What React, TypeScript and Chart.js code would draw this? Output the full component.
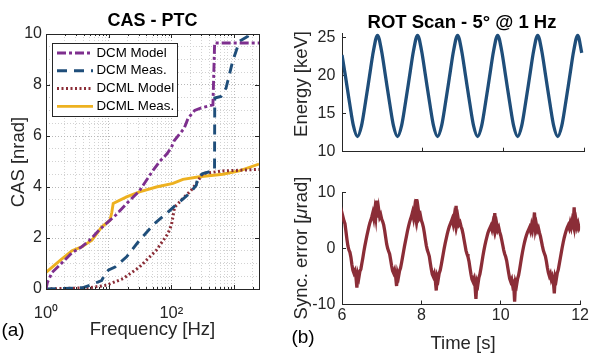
import React, { useEffect, useRef } from "react";
import { Chart, registerables } from "chart.js";

Chart.register(...registerables);

const FONT = "'Liberation Sans', Arial, Helvetica, sans-serif";
const INK = "#262626";

// ---------- Panel (a): CAS - PTC ----------
const freqTicks = [1, 2, 3, 4, 5, 6, 7, 8, 9, 10, 20, 30, 40, 50, 60, 70, 80, 90, 100, 200, 300, 400, 500, 600, 700, 800, 900, 1000, 2000];
const freqMajor = [1, 10, 100, 1000];
const freqLabels: Record<number, string> = { 1: "10⁰", 100: "10²" };
const casTicks = [0, 0.5, 1, 1.5, 2, 2.5, 3, 3.5, 4, 4.5, 5, 5.5, 6, 6.5, 7, 7.5, 8, 8.5, 9, 9.5, 10];
const casLabelled = [0, 2, 4, 6, 8, 10];
const legendNames = ["DCM Model", "DCM Meas.", "DCML Model", "DCML Meas."];

const dcmModelHz = [1, 1.05, 1.25, 1.6, 2.6, 3.7, 5.0, 7.3, 9.8, 13, 19.3, 31, 51, 65, 85, 100, 110, 160, 185, 235, 300, 460, 490, 2500];
const dcmModelCas = [0, 0.25, 0.65, 0.9, 1.42, 1.65, 1.92, 2.35, 2.63, 2.9, 3.35, 3.85, 4.65, 5.0, 5.3, 5.55, 5.8, 6.3, 6.7, 7.0, 7.1, 7.22, 9.65, 9.65];

const dcmMeasHz = [1, 2.7, 4.0, 5.0, 7.7, 8.8, 10, 12.6, 19.3, 31, 54, 83, 135, 195, 250, 265, 318, 458, 488, 492, 620, 745, 950, 1215, 1640, 1800];
const dcmMeasCas = [0, 0.03, 0.06, 0.15, 0.33, 0.6, 0.75, 0.86, 1.26, 1.91, 2.57, 2.96, 3.42, 3.75, 4.07, 4.4, 4.53, 4.63, 4.65, 7.49, 7.55, 7.88, 8.93, 9.71, 9.9, 10.2];

const dcmlModelHz = [1, 5.0, 9.3, 17, 31, 57.6, 88, 100, 106, 112, 153, 208, 250, 318, 660, 2500];
const dcmlModelCas = [0, 0.05, 0.15, 0.41, 0.86, 1.52, 2.17, 2.5, 2.83, 3.2, 3.55, 3.88, 4.14, 4.53, 4.63, 4.69];

const dcmlMeasHz = [1, 1.7, 2.6, 3.7, 5.4, 7.7, 10.5, 11.2, 11.8, 19.3, 31, 57.6, 106, 153, 280, 660, 1215, 2500];
const dcmlMeasCas = [0.65, 1.13, 1.5, 1.65, 1.91, 2.43, 2.7, 3.0, 3.35, 3.61, 3.81, 4.0, 4.14, 4.3, 4.4, 4.5, 4.63, 4.9];

// ---------- Panel (b): ROT Scan ----------
const timeTicks = [6, 8, 10, 12];
const energyTicks = [10, 15, 20, 25];
const syncTicks = [-10, 0, 10];

const energyT = [
  6.0, 6.086, 6.185, 6.284, 6.384, 6.483, 6.582, 6.681, 6.781, 6.88,
  6.979, 7.079, 7.178, 7.277, 7.377, 7.476, 7.575, 7.674, 7.774, 7.873,
  7.972, 8.072, 8.171, 8.27, 8.37, 8.469, 8.568, 8.667, 8.767, 8.866,
  8.965, 9.065, 9.164, 9.263, 9.363, 9.462, 9.561, 9.66, 9.76, 9.859,
  9.958, 10.058, 10.157, 10.256, 10.356, 10.455, 10.554, 10.653, 10.753, 10.852,
  10.951, 11.051, 11.15, 11.249, 11.349, 11.448, 11.547, 11.646, 11.746, 11.845,
  11.944,
];
const energyKeV = [
  22.7, 19.9, 16.5, 13.4, 12.0, 13.4, 16.5, 19.9, 23.3, 25.3,
  23.3, 19.9, 16.5, 13.4, 12.0, 13.4, 16.5, 19.9, 23.3, 25.3,
  23.3, 19.9, 16.5, 13.4, 12.0, 13.4, 16.5, 19.9, 23.3, 25.3,
  23.3, 19.9, 16.5, 13.4, 12.0, 13.4, 16.5, 19.9, 23.3, 25.3,
  23.3, 19.9, 16.5, 13.4, 12.0, 13.4, 16.5, 19.9, 23.3, 25.3,
  23.3, 19.9, 16.5, 13.4, 12.0, 13.4, 16.5, 19.9, 23.3, 25.3,
  23.0,
];

const syncStart = 6;
const syncStep = 0.025;
const syncErr = [
  5.3, 5.6, 4.9, 4.4, 3.0, 1.6, 0.4, -0.3, -0.7, -1.6,
  -2.9, -3.9, -4.4, -4.0, -5.0, -7.0, -4.6, -5.2, -4.1, -3.7,
  -2.7, -1.7, -0.6, 0.4, 1.3, 2.2, 3.0, 3.8, 4.5, 5.0,
  5.6, 6.3, 5.4, 6.8, 5.6, 8.5, 5.5, 6.9, 5.6, 6.0,
  5.2, 4.8, 4.2, 3.2, 2.0, 0.8, 0.0, -0.5, -1.0, -2.0,
  -3.1, -4.0, -4.4, -3.9, -4.9, -6.7, -4.4, -5.0, -4.0, -3.5,
  -2.6, -1.6, -0.6, 0.4, 1.3, 2.2, 3.1, 3.9, 4.6, 5.2,
  5.7, 6.4, 5.5, 6.9, 5.8, 8.8, 5.6, 6.8, 5.5, 5.9,
  5.0, 4.5, 3.8, 2.8, 1.6, 0.5, -0.3, -0.8, -1.4, -2.6,
  -3.7, -4.6, -5.0, -4.5, -5.6, -7.5, -5.0, -5.5, -4.4, -3.9,
  -3.0, -2.0, -1.0, 0.0, 0.9, 1.7, 2.5, 3.2, 3.8, 4.3,
  4.7, 5.2, 4.4, 5.6, 4.6, 7.6, 4.5, 5.4, 4.3, 4.6,
  3.9, 3.4, 2.6, 1.6, 0.6, -0.4, -1.0, -1.5, -2.3, -3.5,
  -4.6, -5.5, -5.9, -5.4, -6.5, -9.0, -5.9, -6.4, -5.2, -4.6,
  -3.6, -2.5, -1.4, -0.4, 0.5, 1.3, 2.0, 2.7, 3.2, 3.6,
  4.0, 3.4, 4.4, 3.6, 6.3, 3.5, 4.3, 3.3, 3.7, 2.9,
  2.3, 1.5, 0.6, -0.3, -1.0, -1.5, -2.2, -3.3, -4.4, -5.4,
  -5.9, -5.5, -6.6, -6.2, -9.5, -6.0, -6.5, -5.4, -4.8, -3.8,
  -2.7, -1.6, -0.6, 0.3, 1.1, 1.8, 2.4, 2.9, 3.3, 3.7,
  3.1, 4.1, 3.3, 4.4, 6.4, 3.4, 4.2, 3.2, 3.6, 2.8,
  2.2, 1.3, 0.4, -0.4, -0.9, -1.4, -2.3, -3.4, -4.3, -4.9,
  -4.5, -5.5, -5.0, -5.8, -8.0, -5.0, -5.5, -4.4, -3.8, -2.8,
  -1.8, -0.8, 0.2, 1.1, 1.9, 2.6, 3.2, 3.7, 4.1, 3.6,
  4.5, 3.8, 4.9, 4.2, 7.3, 4.0, 4.9, 3.8, 4.4, 3.6,
  4.0,
];

// ---------- helpers ----------
const pairs = (xs: number[], ys: number[]) => xs.map((x, i) => ({ x, y: ys[i] }));

type Run = { t: string; italic?: boolean };
type TextSpec = { runs: Run[]; x: number; y: number; size: number; bold?: boolean; rotate?: boolean; color?: string };

function textPlugin(id: string, specs: TextSpec[]) {
  return {
    id,
    afterDraw(chart: any) {
      const ctx = chart.ctx as CanvasRenderingContext2D;
      for (const s of specs) {
        ctx.save();
        ctx.translate(s.x, s.y);
        if (s.rotate) ctx.rotate(-Math.PI / 2);
        ctx.fillStyle = s.color || INK;
        ctx.textBaseline = "middle";
        ctx.textAlign = "left";
        const fontOf = (r: Run) => `${r.italic ? "italic " : ""}${s.bold ? "bold " : ""}${s.size}px ${FONT}`;
        let total = 0;
        for (const r of s.runs) {
          ctx.font = fontOf(r);
          total += ctx.measureText(r.t).width;
        }
        let cx = -total / 2;
        for (const r of s.runs) {
          ctx.font = fontOf(r);
          ctx.fillText(r.t, cx, 0);
          cx += ctx.measureText(r.t).width;
        }
        ctx.restore();
      }
    },
  };
}

const casFrame = {
  id: "casFrame",
  afterDatasetsDraw(chart: any) {
    const { ctx, chartArea: a, scales } = chart;
    const x = scales.x;
    const y = scales.y;
    ctx.save();
    ctx.strokeStyle = INK;
    ctx.lineWidth = 1;
    ctx.setLineDash([]);
    ctx.beginPath();
    for (const v of casLabelled) {
      const py = Math.round(y.getPixelForValue(v)) + 0.5;
      ctx.moveTo(a.left, py);
      ctx.lineTo(a.left + 4, py);
      ctx.moveTo(a.right, py);
      ctx.lineTo(a.right - 4, py);
    }
    for (const v of freqTicks) {
      const len = freqMajor.includes(v) ? 4 : 2;
      const px = Math.round(x.getPixelForValue(v)) + 0.5;
      ctx.moveTo(px, a.bottom);
      ctx.lineTo(px, a.bottom - len);
      ctx.moveTo(px, a.top);
      ctx.lineTo(px, a.top + len);
    }
    ctx.stroke();
    ctx.strokeRect(Math.round(a.left) + 0.5, Math.round(a.top) + 0.5, Math.round(a.right - a.left), Math.round(a.bottom - a.top));
    ctx.restore();
  },
};

const casLegend = {
  id: "casLegend",
  afterDraw(chart: any) {
    const ctx = chart.ctx as CanvasRenderingContext2D;
    ctx.save();
    ctx.fillStyle = "#ffffff";
    ctx.fillRect(52, 43, 125, 73);
    ctx.strokeStyle = INK;
    ctx.lineWidth = 1;
    ctx.setLineDash([]);
    ctx.strokeRect(52.5, 43.5, 125, 73);
    chart.data.datasets.forEach((ds: any, i: number) => {
      const y = 53 + i * 17.8;
      ctx.beginPath();
      ctx.strokeStyle = ds.borderColor;
      ctx.lineWidth = ds.borderWidth;
      ctx.setLineDash(ds.borderDash || []);
      ctx.moveTo(57, y);
      ctx.lineTo(93, y);
      ctx.stroke();
      ctx.setLineDash([]);
      ctx.fillStyle = "#000000";
      ctx.font = `13.3px ${FONT}`;
      ctx.textBaseline = "middle";
      ctx.textAlign = "left";
      ctx.fillText(ds.label, 96.5, y);
    });
    ctx.restore();
  },
};

const tickFont = { family: FONT, size: 16 };

function casConfig(): any {
  const line = (label: string, xs: number[], ys: number[], color: string, dash: number[], width: number) => ({
    label,
    data: pairs(xs, ys),
    borderColor: color,
    backgroundColor: color,
    borderWidth: width,
    borderDash: dash,
    pointRadius: 0,
    tension: 0,
    fill: false,
  });
  return {
    type: "line",
    data: {
      datasets: [
        line(legendNames[0], dcmModelHz, dcmModelCas, "#7E2F8E", [9, 3, 3, 3], 2.9),
        line(legendNames[1], dcmMeasHz, dcmMeasCas, "#1F4E7A", [10, 7], 2.9),
        line(legendNames[2], dcmlModelHz, dcmlModelCas, "#8B2D37", [2, 2.5], 3),
        line(legendNames[3], dcmlMeasHz, dcmlMeasCas, "#EDB120", [], 2.9),
      ],
    },
    options: {
      responsive: false,
      animation: false,
      devicePixelRatio: 1,
      events: [],
      layout: { padding: { left: 0, right: 11, top: 34, bottom: 0 } },
      plugins: { legend: { display: false }, tooltip: { enabled: false }, title: { display: false } },
      scales: {
        x: {
          type: "logarithmic",
          min: 1,
          max: 2500,
          afterBuildTicks: (s: any) => {
            s.ticks = freqTicks.map((v) => ({ value: v }));
          },
          afterFit: (s: any) => {
            s.height = 65;
          },
          ticks: {
            autoSkip: false,
            maxRotation: 0,
            padding: 15,
            font: { family: FONT, size: 16.5 },
            color: INK,
            callback: (v: any) => freqLabels[Number(v)] ?? "",
          },
          grid: {
            drawTicks: false,
            lineWidth: 1,
            color: (c: any) => (c.tick && freqMajor.includes(c.tick.value) ? "#b8b8b8" : "#d2d2d2"),
          },
          border: { display: false, dash: [1, 2] },
        },
        y: {
          type: "linear",
          min: 0,
          max: 10,
          afterBuildTicks: (s: any) => {
            s.ticks = casTicks.map((v) => ({ value: v }));
          },
          afterFit: (s: any) => {
            s.width = 46;
          },
          ticks: {
            autoSkip: false,
            padding: 4,
            font: tickFont,
            color: INK,
            callback: (v: any) => (casLabelled.includes(Number(v)) ? String(v) : ""),
          },
          grid: {
            drawTicks: false,
            lineWidth: 1,
            color: (c: any) => (c.tick && casLabelled.includes(c.tick.value) ? "#b8b8b8" : "#d2d2d2"),
          },
          border: { display: false, dash: [1, 2] },
        },
      },
    },
    plugins: [
      casFrame,
      casLegend,
      textPlugin("casTexts", [
        { runs: [{ t: "CAS - PTC" }], x: 152.5, y: 21, size: 18, bold: true, color: "#000000" },
        { runs: [{ t: "CAS [nrad]" }], x: 19, y: 162, size: 18.5, rotate: true },
        { runs: [{ t: "Frequency [Hz]" }], x: 152.5, y: 330, size: 18.5 },
        { runs: [{ t: "(a)" }], x: 13, y: 331, size: 19, color: "#000000" },
      ]),
    ],
  };
}

function timeScale(showLabels: boolean, height: number): any {
  return {
    type: "linear",
    min: 6,
    max: 12,
    afterBuildTicks: (s: any) => {
      s.ticks = timeTicks.map((v) => ({ value: v }));
    },
    afterFit: (s: any) => {
      s.height = height;
    },
    ticks: { display: showLabels, autoSkip: false, maxRotation: 0, padding: 5, font: tickFont, color: INK },
    grid: { drawOnChartArea: false, drawTicks: true, tickLength: -4, tickColor: INK, tickWidth: 1 },
    border: { display: true, color: INK, width: 1 },
  };
}

function valueScale(min: number, max: number, ticks: number[]): any {
  return {
    type: "linear",
    min,
    max,
    afterBuildTicks: (s: any) => {
      s.ticks = ticks.map((v) => ({ value: v }));
    },
    afterFit: (s: any) => {
      s.width = 57;
    },
    ticks: { autoSkip: false, padding: 10.7, font: tickFont, color: INK },
    grid: { drawOnChartArea: false, drawTicks: true, tickLength: -4, tickColor: INK, tickWidth: 1 },
    border: { display: true, color: INK, width: 1 },
  };
}

function energyConfig(): any {
  return {
    type: "line",
    data: {
      datasets: [
        {
          label: "Energy",
          data: pairs(energyT, energyKeV),
          borderColor: "#1F4E7A",
          borderWidth: 3.3,
          pointRadius: 0,
          cubicInterpolationMode: "monotone",
          fill: false,
        },
      ],
    },
    options: {
      responsive: false,
      animation: false,
      devicePixelRatio: 1,
      events: [],
      layout: { padding: { left: 0, right: 10, top: 33, bottom: 0 } },
      plugins: { legend: { display: false }, tooltip: { enabled: false } },
      scales: { x: timeScale(false, 4), y: valueScale(10, 25.6, energyTicks) },
    },
    plugins: [
      textPlugin("energyTexts", [
        { runs: [{ t: "ROT Scan - 5° @ 1 Hz" }], x: 177, y: 22.5, size: 18.5, bold: true, color: "#000000" },
        { runs: [{ t: "Energy [keV]" }], x: 17, y: 84, size: 18.5, rotate: true },
      ]),
    ],
  };
}

function syncConfig(): any {
  return {
    type: "line",
    data: {
      datasets: [
        {
          label: "Sync. error",
          data: syncErr.map((v, i) => ({ x: syncStart + i * syncStep, y: v })),
          borderColor: "#8B2D37",
          borderWidth: 3.3,
          pointRadius: 0,
          tension: 0,
          fill: false,
        },
      ],
    },
    options: {
      responsive: false,
      animation: false,
      devicePixelRatio: 1,
      events: [],
      layout: { padding: { left: 0, right: 10, top: 16, bottom: 0 } },
      plugins: { legend: { display: false }, tooltip: { enabled: false } },
      scales: { x: timeScale(true, 49.5), y: valueScale(-10, 10, syncTicks) },
    },
    plugins: [
      textPlugin("syncTexts", [
        { runs: [{ t: "Sync. error [" }, { t: "μ", italic: true }, { t: "rad]" }], x: 17, y: 76, size: 18.5, rotate: true },
        { runs: [{ t: "Time [s]" }], x: 178, y: 172, size: 18.5 },
        { runs: [{ t: "(b)" }], x: 18, y: 166, size: 19, color: "#000000" },
      ]),
    ],
  };
}

function ChartCanvas(props: { left: number; top: number; width: number; height: number; make: () => any }) {
  const ref = useRef<HTMLCanvasElement | null>(null);
  useEffect(() => {
    if (!ref.current) return;
    const chart = new Chart(ref.current, props.make());
    return () => chart.destroy();
  }, []);
  return (
    <canvas
      ref={ref}
      width={props.width}
      height={props.height}
      style={{ position: "absolute", left: props.left, top: props.top, width: props.width, height: props.height, display: "block" }}
    />
  );
}

export default function App() {
  return (
    <div style={{ position: "fixed", left: 0, top: 0, width: 594, height: 354, background: "#ffffff", overflow: "hidden" }}>
      <ChartCanvas left={0} top={0} width={270} height={354} make={casConfig} />
      <ChartCanvas left={285} top={0} width={309} height={172} make={energyConfig} />
      <ChartCanvas left={285} top={172} width={309} height={182} make={syncConfig} />
    </div>
  );
}
